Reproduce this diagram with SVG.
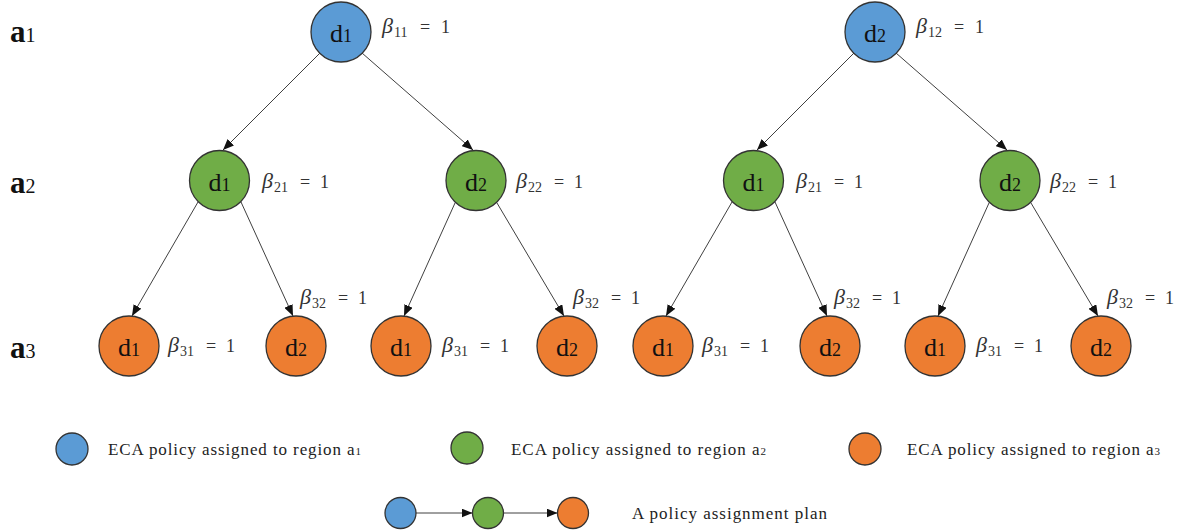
<svg xmlns="http://www.w3.org/2000/svg" width="1193" height="531" viewBox="0 0 1193 531">
<style>
.n{stroke:#333;stroke-width:1.3}
.b{fill:#5B9BD5}.g{fill:#70AD47}.o{fill:#ED7D31}
.e{stroke:#404040;stroke-width:1;fill:none;marker-end:url(#ah)}
text{font-family:'Liberation Serif','DejaVu Serif','Times New Roman',Times,serif}
.d{font-size:26px;fill:#111;text-anchor:middle}
.ds{font-size:18px}
.lab{font-size:18px;fill:#333}
.beta{font-style:italic;font-size:22px}
.sub{font-size:14px}
.row{font-weight:bold;font-size:31px;fill:#111}
.rs{font-weight:normal;font-size:20px}
.leg{font-size:17px;fill:#222}
.ls{font-size:11px}
</style>
<defs>
<marker id="ah" markerUnits="userSpaceOnUse" markerWidth="11" markerHeight="9" refX="11" refY="4.5" orient="auto">
<path d="M0,0 L11,4.5 L0,9 z" fill="#111"/>
</marker>
</defs>

<g id="row-labels">
<text class="row" x="10" y="42">a<tspan class="rs">1</tspan></text>
<text class="row" x="10" y="193">a<tspan class="rs">2</tspan></text>
<text class="row" x="10" y="358">a<tspan class="rs">3</tspan></text>
</g>

<g id="connectors">
<line class="e" x1="320" y1="53" x2="223" y2="150"/>
<line class="e" x1="362" y1="53" x2="473" y2="150"/>
<line class="e" x1="198" y1="202" x2="132" y2="316"/>
<line class="e" x1="241" y1="202" x2="293" y2="316"/>
<line class="e" x1="455" y1="203" x2="404" y2="316"/>
<line class="e" x1="497" y1="203" x2="564" y2="316"/>
<line class="e" x1="854" y1="53" x2="757" y2="150"/>
<line class="e" x1="896" y1="53" x2="1007" y2="150"/>
<line class="e" x1="732" y1="202" x2="666" y2="316"/>
<line class="e" x1="775" y1="202" x2="827" y2="316"/>
<line class="e" x1="989" y1="203" x2="938" y2="316"/>
<line class="e" x1="1031" y1="203" x2="1098" y2="316"/>
<line class="e" x1="416" y1="513" x2="472.5" y2="513"/>
<line class="e" x1="504" y1="513" x2="557.5" y2="513"/>
</g>

<g id="n-a1-d1"><circle class="n b" cx="341" cy="32" r="30"/><text class="d" x="341" y="42">d<tspan class="ds">1</tspan></text>
<text class="lab" x="382" y="33"><tspan class="beta">β</tspan><tspan class="sub" x="394" dy="4">11</tspan><tspan x="420" dy="-4">=</tspan><tspan x="441">1</tspan></text></g>
<g id="n-a1-d2"><circle class="n b" cx="875" cy="32" r="30"/><text class="d" x="875" y="42">d<tspan class="ds">2</tspan></text>
<text class="lab" x="916" y="33"><tspan class="beta">β</tspan><tspan class="sub" x="928" dy="4">12</tspan><tspan x="954" dy="-4">=</tspan><tspan x="975">1</tspan></text></g>

<g id="n-L-a2-d1"><circle class="n g" cx="219.5" cy="180.5" r="30"/><text class="d" x="219.5" y="190.5">d<tspan class="ds">1</tspan></text>
<text class="lab" x="262" y="188"><tspan class="beta">β</tspan><tspan class="sub" x="274" dy="4">21</tspan><tspan x="300" dy="-4">=</tspan><tspan x="320">1</tspan></text></g>
<g id="n-L-a2-d2"><circle class="n g" cx="476" cy="180.5" r="30"/><text class="d" x="476" y="190.5">d<tspan class="ds">2</tspan></text>
<text class="lab" x="516" y="188"><tspan class="beta">β</tspan><tspan class="sub" x="528" dy="4">22</tspan><tspan x="554" dy="-4">=</tspan><tspan x="574">1</tspan></text></g>
<g id="n-R-a2-d1"><circle class="n g" cx="753.5" cy="180.5" r="30"/><text class="d" x="753.5" y="190.5">d<tspan class="ds">1</tspan></text>
<text class="lab" x="796" y="188"><tspan class="beta">β</tspan><tspan class="sub" x="808" dy="4">21</tspan><tspan x="834" dy="-4">=</tspan><tspan x="854">1</tspan></text></g>
<g id="n-R-a2-d2"><circle class="n g" cx="1010" cy="180.5" r="30"/><text class="d" x="1010" y="190.5">d<tspan class="ds">2</tspan></text>
<text class="lab" x="1050" y="188"><tspan class="beta">β</tspan><tspan class="sub" x="1062" dy="4">22</tspan><tspan x="1088" dy="-4">=</tspan><tspan x="1108">1</tspan></text></g>

<g id="n-LL-a3-d1"><circle class="n o" cx="129" cy="346" r="30"/><text class="d" x="129" y="356">d<tspan class="ds">1</tspan></text>
<text class="lab" x="168" y="352"><tspan class="beta">β</tspan><tspan class="sub" x="180" dy="4">31</tspan><tspan x="206" dy="-4">=</tspan><tspan x="226">1</tspan></text></g>
<g id="n-LL-a3-d2"><circle class="n o" cx="296" cy="346" r="30"/><text class="d" x="296" y="356">d<tspan class="ds">2</tspan></text>
<text class="lab" x="300" y="304"><tspan class="beta">β</tspan><tspan class="sub" x="312" dy="4">32</tspan><tspan x="338" dy="-4">=</tspan><tspan x="358">1</tspan></text></g>
<g id="n-LR-a3-d1"><circle class="n o" cx="401" cy="346" r="30"/><text class="d" x="401" y="356">d<tspan class="ds">1</tspan></text>
<text class="lab" x="442" y="352"><tspan class="beta">β</tspan><tspan class="sub" x="454" dy="4">31</tspan><tspan x="480" dy="-4">=</tspan><tspan x="500">1</tspan></text></g>
<g id="n-LR-a3-d2"><circle class="n o" cx="567" cy="346" r="30"/><text class="d" x="567" y="356">d<tspan class="ds">2</tspan></text>
<text class="lab" x="573" y="304"><tspan class="beta">β</tspan><tspan class="sub" x="585" dy="4">32</tspan><tspan x="611" dy="-4">=</tspan><tspan x="631">1</tspan></text></g>
<g id="n-RL-a3-d1"><circle class="n o" cx="663" cy="346" r="30"/><text class="d" x="663" y="356">d<tspan class="ds">1</tspan></text>
<text class="lab" x="702" y="352"><tspan class="beta">β</tspan><tspan class="sub" x="714" dy="4">31</tspan><tspan x="740" dy="-4">=</tspan><tspan x="760">1</tspan></text></g>
<g id="n-RL-a3-d2"><circle class="n o" cx="830" cy="346" r="30"/><text class="d" x="830" y="356">d<tspan class="ds">2</tspan></text>
<text class="lab" x="834" y="304"><tspan class="beta">β</tspan><tspan class="sub" x="846" dy="4">32</tspan><tspan x="872" dy="-4">=</tspan><tspan x="892">1</tspan></text></g>
<g id="n-RR-a3-d1"><circle class="n o" cx="935" cy="346" r="30"/><text class="d" x="935" y="356">d<tspan class="ds">1</tspan></text>
<text class="lab" x="976" y="352"><tspan class="beta">β</tspan><tspan class="sub" x="988" dy="4">31</tspan><tspan x="1014" dy="-4">=</tspan><tspan x="1034">1</tspan></text></g>
<g id="n-RR-a3-d2"><circle class="n o" cx="1101" cy="346" r="30"/><text class="d" x="1101" y="356">d<tspan class="ds">2</tspan></text>
<text class="lab" x="1107" y="304"><tspan class="beta">β</tspan><tspan class="sub" x="1119" dy="4">32</tspan><tspan x="1145" dy="-4">=</tspan><tspan x="1165">1</tspan></text></g>

<g id="legend">
<circle class="n b" cx="72" cy="449" r="16"/>
<text class="leg" x="108" y="455" textLength="253" lengthAdjust="spacing">ECA policy assigned to region a<tspan class="ls">1</tspan></text>
<circle class="n g" cx="467" cy="448" r="16"/>
<text class="leg" x="511" y="455" textLength="255" lengthAdjust="spacing">ECA policy assigned to region a<tspan class="ls">2</tspan></text>
<circle class="n o" cx="865" cy="449" r="16"/>
<text class="leg" x="907" y="455" textLength="253" lengthAdjust="spacing">ECA policy assigned to region a<tspan class="ls">3</tspan></text>
<circle class="n b" cx="400.5" cy="513" r="15.5"/>
<circle class="n g" cx="488" cy="513" r="15.5"/>
<circle class="n o" cx="573" cy="513" r="15.5"/>
<text class="leg" x="632" y="519" textLength="195" lengthAdjust="spacing">A policy assignment plan</text>
</g>
</svg>
